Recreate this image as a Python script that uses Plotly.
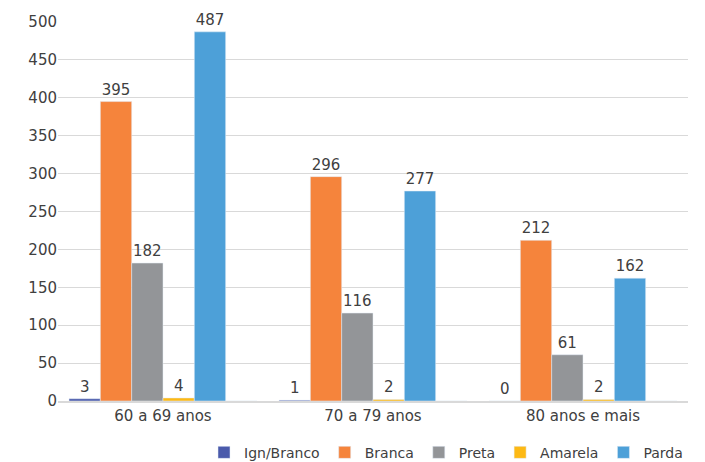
import plotly.graph_objects as go

categories = ["60 a 69 anos", "70 a 79 anos", "80 anos e mais"]
ign_branco = [3, 1, 0]
branca = [395, 296, 212]
preta = [182, 116, 61]
amarela = [4, 2, 2]
parda = [487, 277, 162]
vazio = [0, 0, 0]  # empty sixth slot present in the original layout

series = [
    ("Ign/Branco", ign_branco, "#4a5aab"),
    ("Branca", branca, "#f5843c"),
    ("Preta", preta, "#939598"),
    ("Amarela", amarela, "#fdb914"),
    ("Parda", parda, "#4da0d8"),
]

font_family = "DejaVu Sans, sans-serif"
fig = go.Figure()
for name, vals, color in series:
    fig.add_trace(go.Bar(
        name=name, x=categories, y=vals, marker_color=color,
        text=[str(v) for v in vals], textposition="outside",
        textfont=dict(size=15, color="#404040", family=font_family),
        cliponaxis=False,
    ))
fig.add_trace(go.Bar(name="", x=categories, y=vazio, showlegend=False,
                     marker_color="rgba(0,0,0,0)", hoverinfo="skip"))

fig.update_layout(
    width=705, height=462,
    margin=dict(l=58, r=17, t=22, b=61),
    barmode="group", bargap=0.105, bargroupgap=0,
    plot_bgcolor="white", paper_bgcolor="white",
    font=dict(family=font_family, size=15, color="#404040"),
    legend=dict(orientation="h", x=1.0, xanchor="right",
                yref="container", y=0.02, yanchor="middle",
                font=dict(size=14, color="#404040"), itemwidth=30,
                tracegroupgap=0),
)
fig.update_yaxes(range=[0, 500], dtick=50, showgrid=True, gridcolor="#d9d9d9",
                 gridwidth=1, zeroline=False, ticks="", showline=False,
                 automargin=False, tickfont=dict(size=15, color="#404040"))
fig.update_xaxes(showline=True, linecolor="#d9d9d9", linewidth=2, ticks="",
                 automargin=False, tickfont=dict(size=15, color="#404040"))
fig.write_html("out.html",
               config={"displayModeBar": False},
               post_script="document.body.style.margin='0';document.body.style.overflow='hidden';")
